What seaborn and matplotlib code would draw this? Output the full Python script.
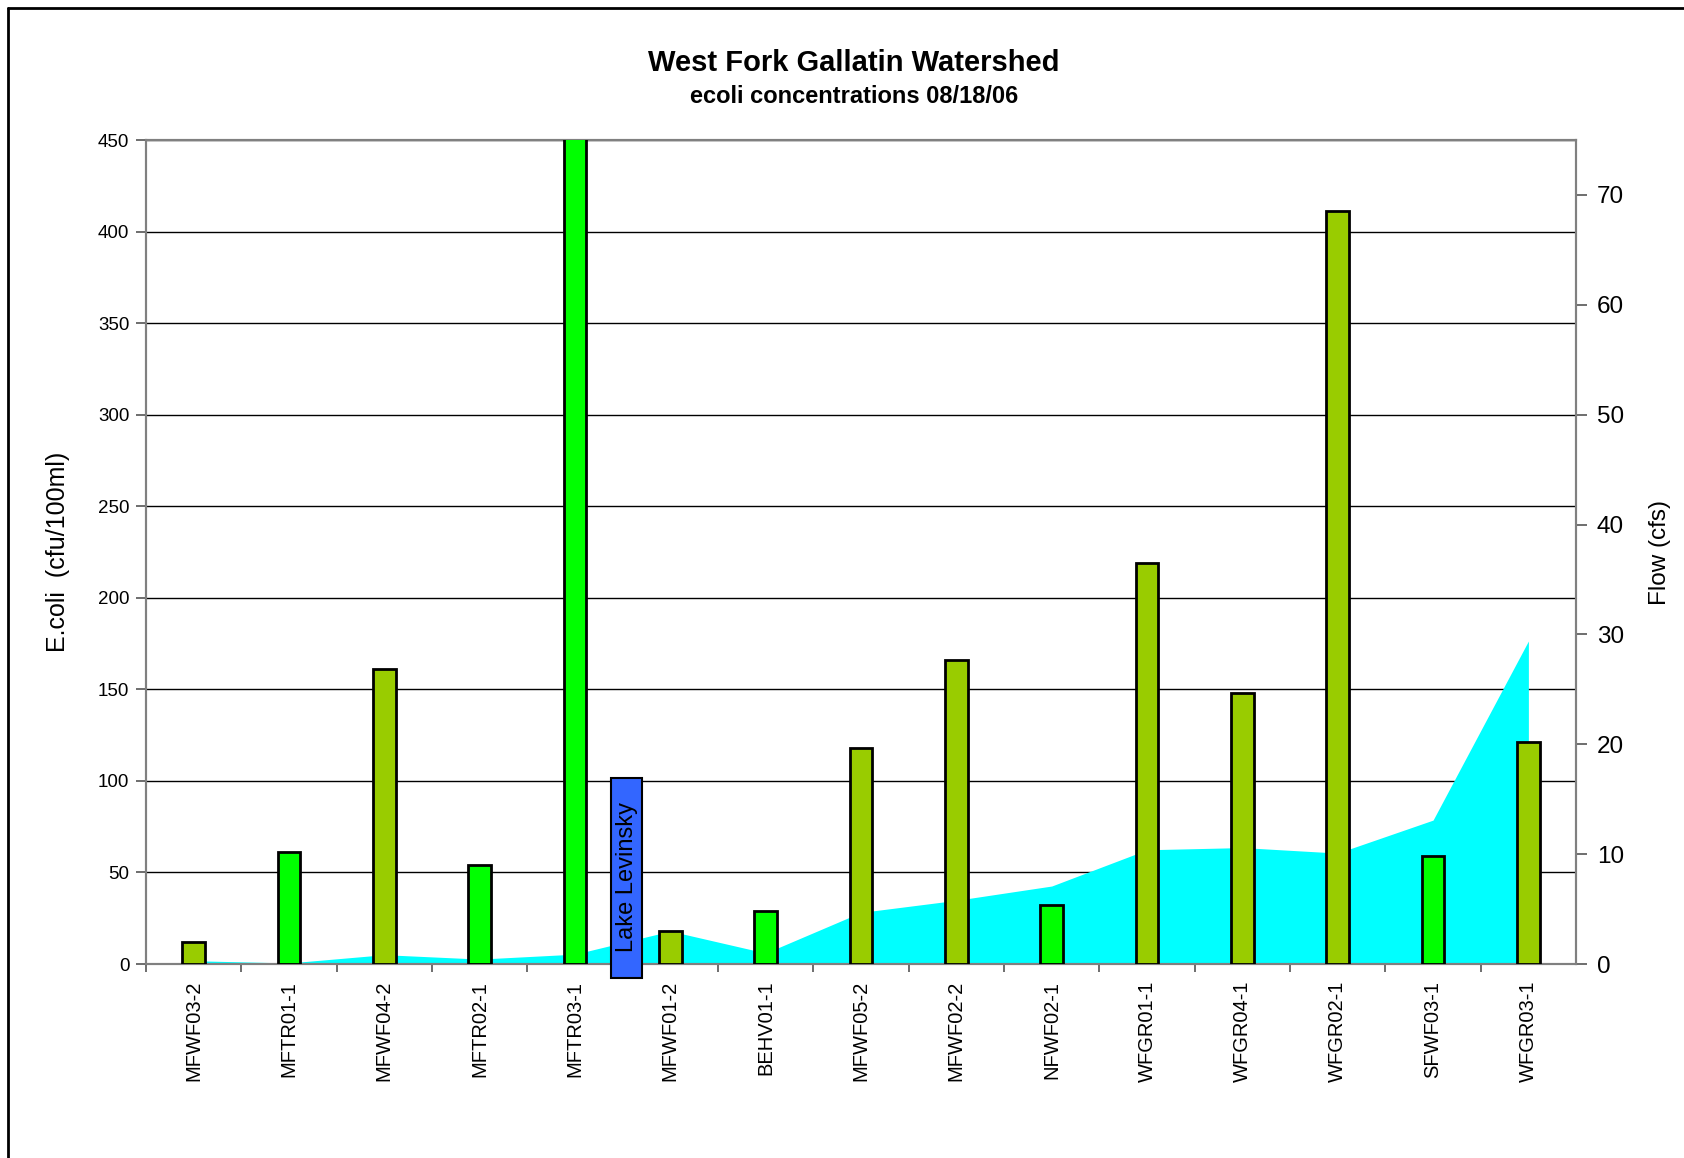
import seaborn as sns
import pandas as pd
import matplotlib.pyplot as plt
from matplotlib.lines import Line2D
from matplotlib.patches import Rectangle


sns.set_style('white')
plt.rcParams['font.family'] = ['Liberation Sans', 'DejaVu Sans']
plt.rcParams.update({'text.color': 'black', 'axes.labelcolor': 'black',
                     'xtick.color': 'black', 'ytick.color': 'black'})

sites = ['MFWF03-2', 'MFTR01-1', 'MFWF04-2', 'MFTR02-1', 'MFTR03-1', 'MFWF01-2', 'BEHV01-1', 'MFWF05-2',
         'MFWF02-2', 'NFWF02-1', 'WFGR01-1', 'WFGR04-1', 'WFGR02-1', 'SFWF03-1', 'WFGR03-1']
ecoli = [12, 61, 161, 54, 480, 18, 29, 118, 166, 32, 219, 148, 411, 59, 121]
flow = [0.3, 0.1, 0.85, 0.45, 0.9, 3.0, 1.0, 4.7, 5.8, 7.1, 10.4, 10.6, 10.1, 13.1, 29.4]
site_type = ['main', 'trib', 'main', 'trib', 'trib', 'main', 'trib', 'main',
             'main', 'trib', 'main', 'main', 'main', 'trib', 'main']
type_colors = {'main': '#99CC00', 'trib': '#00FF00'}

lake_label = 'Lake Levinsky'
lake_pos = 4.54

df = pd.DataFrame({'site': sites, 'ecoli': ecoli, 'flow': flow, 'type': site_type})

fig = plt.figure(figsize=(16.84, 11.58), dpi=100)
ax = fig.add_axes([0.0867, 0.1675, 0.8492, 0.7116])
ax2 = ax.twinx()

# flow area sits behind the bars, so the twin axis goes underneath
ax.set_zorder(ax2.get_zorder() + 1)
ax.patch.set_visible(False)
ax2.patch.set_facecolor('#FFFFCC')

ax2.fill_between(range(len(sites)), df['flow'], color='#00FFFF', lw=0, zorder=2)
ax2.set_ylim(0, 75)
ax2.set_yticks(range(0, 71, 10))
ax2.tick_params(axis='y', labelsize=17.5, length=8, width=1.2, pad=7, direction='out', right=True,
                color='#555555')
ax2.set_ylabel('Flow (cfs)', fontsize=17.5, labelpad=18)

# gridlines from the left axis ticks, drawn on the lower axis so the area covers them
for v in range(50, 451, 50):
    ax2.axhline(v * 75 / 450, color='black', lw=1, zorder=1)

sns.barplot(data=df, x='site', y='ecoli', hue='type', palette=type_colors, dodge=False, width=0.24,
            saturation=1, edgecolor='black', linewidth=2, legend=False, ax=ax, zorder=3)
ax.set_ylim(0, 450)
ax.set_xlim(-0.5, len(sites) - 0.5)
ax.set_yticks(range(0, 451, 50))
ax.tick_params(axis='y', labelsize=13.5, length=7, width=1.2, pad=5, direction='out', left=True,
               color='#555555')
ax.set_xticks(range(len(sites)))
ax.set_xticklabels(sites, rotation=90, fontsize=14.5)
ax.set_xticks([i + 0.5 for i in range(len(sites) - 1)] + [-0.5], minor=True)
ax.tick_params(axis='x', which='major', length=0, pad=12)
ax.tick_params(axis='x', which='minor', length=6, width=1.2, direction='out', bottom=True, color='#555555')
ax.set_xlabel('')
ax.set_ylabel('E.coli  (cfu/100ml)', fontsize=18, labelpad=20)

for a in (ax, ax2):
    for s in a.spines.values():
        s.set_color('#808080')
        s.set_linewidth(1.5)

ax.add_patch(Rectangle((lake_pos - 0.165, -7.5), 0.33, 109, facecolor='#3366FF', edgecolor='black',
                       lw=1.5, clip_on=False, zorder=5))
ax.text(lake_pos, 47.5, lake_label, rotation=90, ha='center', va='center', fontsize=17, zorder=6)

fig.text(0.507, 0.946, 'West Fork Gallatin Watershed', ha='center', va='center', fontsize=21, weight='bold')
fig.text(0.507, 0.917, 'ecoli concentrations 08/18/06', ha='center', va='center', fontsize=17, weight='bold')

fig.add_artist(Line2D([8 / 1684, 8 / 1684], [0, 1 - 8 / 1158], color='black', lw=2))
fig.add_artist(Line2D([8 / 1684, 1], [1 - 8 / 1158, 1 - 8 / 1158], color='black', lw=2))

fig.savefig('out.png', dpi=100)
